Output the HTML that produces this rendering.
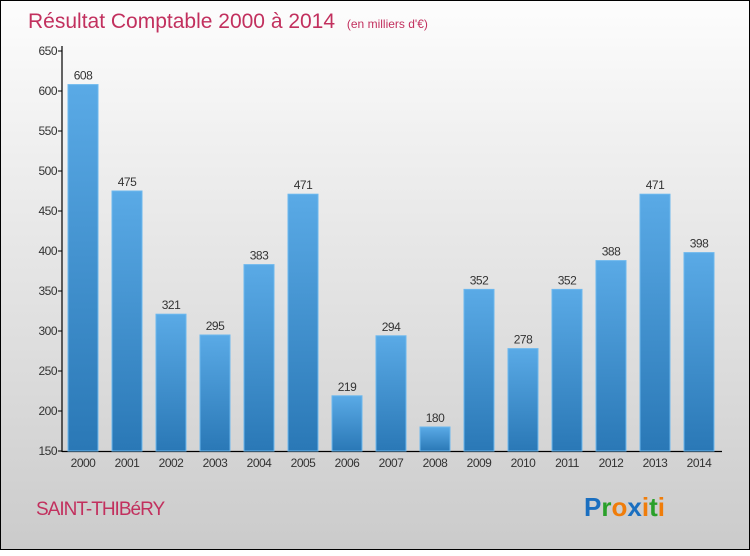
<!DOCTYPE html>
<html><head><meta charset="utf-8"><style>
html,body{margin:0;padding:0}
body{width:750px;height:550px;overflow:hidden;font-family:"Liberation Sans",sans-serif}
#wrap{position:absolute;left:0;top:0;width:748px;height:548px;border:1px solid #000;background:linear-gradient(#fdfdfd,#f0f0f0 25%,#d8d8d8 75%,#cbcbcb)}
</style></head><body>
<div id="wrap">
<svg width="750" height="550">
<defs><linearGradient id="bg" x1="0" y1="0" x2="0" y2="1"><stop offset="0" stop-color="#5aaae6"/><stop offset="1" stop-color="#2a78b6"/></linearGradient></defs>
<text x="27" y="27" font-size="21" fill="#c2305e">Résultat Comptable 2000 à 2014 <tspan font-size="12" dx="6">(en milliers d'€)</tspan></text>
<g id="axes"></g><g id="bars"></g>
<text x="35" y="514" font-size="19" fill="#c2305e" letter-spacing="-1">SAINT-THIBéRY</text>
<g font-size="26" font-weight="bold" font-family="'Liberation Sans',sans-serif">
<text x="583" y="515"><tspan fill="#1a6fc0">P</tspan><tspan fill="#2aa02a">r</tspan><tspan fill="#f07d0a">o</tspan><tspan fill="#1a6fc0">x</tspan><tspan fill="#f07d0a">i</tspan><tspan fill="#2aa02a">t</tspan><tspan fill="#f07d0a">i</tspan></text></g>
</svg></div>
<script>
const years=["2000","2001","2002","2003","2004","2005","2006","2007","2008","2009","2010","2011","2012","2013","2014"];
const values=[608,475,321,295,383,471,219,294,180,352,278,352,388,471,398];
const ticks=[150,200,250,300,350,400,450,500,550,600,650];
const NS="http://www.w3.org/2000/svg";
const y=v=>450-(v-150)*0.8;
const x=i=>67+i*44;
function mk(t,a,p){const e=document.createElementNS(NS,t);for(const k in a)e.setAttribute(k,a[k]);p.appendChild(e);return e;}
const ax=document.getElementById('axes'),bs=document.getElementById('bars');
let l=mk('line',{x1:61,y1:45,x2:61,y2:451,stroke:'#000','stroke-width':1.2},ax);


l=mk('line',{x1:61,y1:450.5,x2:721,y2:450.5,stroke:'#000','stroke-width':1.2},ax);


ticks.forEach(t=>{
 mk('line',{x1:57,x2:61,y1:y(t),y2:y(t),stroke:'#000'},ax);
 const tx=mk('text',{x:56,y:y(t)+4,'text-anchor':'end','font-size':12,fill:'#333','letter-spacing':'-0.5'},ax);
 tx.textContent=t;
 
 
});
years.forEach((yr,i)=>{
 const r=mk('rect',{x:x(i),y:y(values[i]),width:30,height:450-y(values[i]),fill:'url(#bg)',stroke:'#6cb8ee','stroke-width':1},bs);
 
 
 const v=mk('text',{x:x(i)+15,y:y(values[i])-5,'text-anchor':'middle','font-size':12,fill:'#333','letter-spacing':'-0.5'},bs);
 v.textContent=values[i];
 
 
 const xl=mk('text',{x:x(i)+15,y:466,'text-anchor':'middle','font-size':12,fill:'#333','letter-spacing':'-0.5'},bs);
 xl.textContent=yr;
 
 
});
</script>
</body></html>
